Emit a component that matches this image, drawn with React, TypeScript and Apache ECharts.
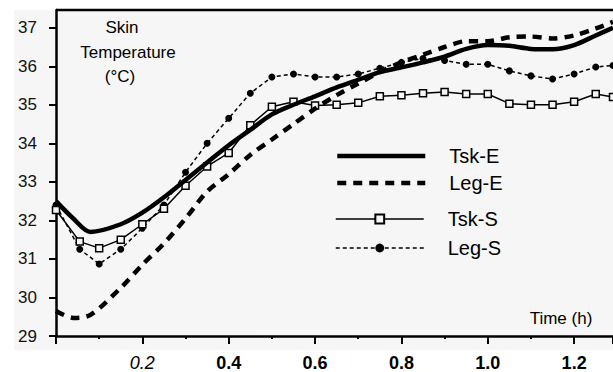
import React, { useEffect, useRef } from "react";
import * as echarts from "echarts";

// Time (h) grids
const timeE = [0, 0.04, 0.08, 0.15, 0.2, 0.25, 0.3, 0.35, 0.4, 0.45, 0.5, 0.55, 0.6, 0.65, 0.7, 0.75, 0.8, 0.85, 0.9, 0.95, 1.0, 1.05, 1.1, 1.15, 1.2, 1.25, 1.29];
const tskE = [32.5, 32.05, 31.7, 31.9, 32.2, 32.6, 33.05, 33.5, 33.95, 34.35, 34.75, 35.0, 35.22, 35.45, 35.65, 35.85, 35.97, 36.1, 36.25, 36.45, 36.55, 36.53, 36.45, 36.44, 36.55, 36.8, 37.0];
const legE = [29.65, 29.47, 29.55, 30.25, 30.85, 31.4, 32.05, 32.75, 33.2, 33.7, 34.1, 34.5, 34.9, 35.25, 35.55, 35.85, 36.1, 36.3, 36.5, 36.65, 36.65, 36.75, 36.77, 36.72, 36.8, 36.98, 37.15];

const timeS = [0, 0.055, 0.1, 0.15, 0.2, 0.25, 0.3, 0.35, 0.4, 0.45, 0.5, 0.55, 0.6, 0.65, 0.7, 0.75, 0.8, 0.85, 0.9, 0.95, 1.0, 1.05, 1.1, 1.15, 1.2, 1.25, 1.29];
const tskS = [32.27, 31.45, 31.28, 31.5, 31.9, 32.3, 32.9, 33.4, 33.75, 34.47, 34.95, 35.08, 34.98, 35.0, 35.05, 35.22, 35.25, 35.3, 35.33, 35.28, 35.28, 35.03, 35.0, 35.0, 35.08, 35.28, 35.2];
const legS = [32.4, 31.25, 30.87, 31.25, 31.8, 32.4, 33.25, 34.0, 34.65, 35.3, 35.72, 35.8, 35.72, 35.72, 35.8, 35.95, 36.1, 36.2, 36.15, 36.05, 36.05, 35.88, 35.75, 35.67, 35.8, 35.98, 36.02];

const seriesNames = ["Tsk-E", "Leg-E", "Tsk-S", "Leg-S"];
const yLabelLines = ["Skin", "Temperature", "(°C)"];
const xName = "Time (h)";

const pair = (t: number[], v: number[]) => t.map((x, i) => [x, v[i]]);

const FONT = "'Liberation Sans', Arial, sans-serif";

export default function App() {
  const ref = useRef<HTMLDivElement>(null);
  useEffect(() => {
    if (!ref.current) return;
    const chart = echarts.init(ref.current, undefined, { renderer: "svg" });
    const legendTops = [146, 173, 209, 238];
    const legendLine: any[] = [
      { color: "#000", width: 4.5, type: "solid" },
      { color: "#000", width: 4.5, type: [9, 7] },
      { color: "#000", width: 1.5, type: "solid" },
      { color: "#000", width: 1.5, type: [4, 3] },
    ];
    const legendItem: any[] = [
      { color: "transparent", borderWidth: 0, opacity: 0 },
      { color: "transparent", borderWidth: 0, opacity: 0 },
      { color: "#f6f6f6", borderColor: "#000", borderWidth: 2 },
      { color: "#000" },
    ];
    const option: any = {
      animation: false,
      backgroundColor: "#ffffff",
      textStyle: { fontFamily: FONT },
      grid: { left: 56, right: 0, top: 10, bottom: 31, containLabel: false },
      xAxis: {
        type: "value",
        min: 0,
        max: 1.29,
        interval: 0.2,
        splitLine: { show: false },
        axisLine: { lineStyle: { color: "#000", width: 2.5 } },
        axisTick: { length: 8, lineStyle: { color: "#000", width: 2 } },
        minorTick: { show: true, splitNumber: 2, length: 3, lineStyle: { color: "#000", width: 2 } },
        axisLabel: {
          margin: 18,
          fontSize: 18,
          fontWeight: "bold",
          color: "#000",
          fontFamily: FONT,
          showMaxLabel: false,
          formatter: (v: number) => {
            if (v === 0) return "";
            if (Math.abs(v * 5 - Math.round(v * 5)) > 1e-6) return "";
            const s = v.toFixed(1);
            return Math.abs(v - 0.2) < 1e-6 ? "{it|" + s + "}" : s;
          },
          rich: { it: { fontStyle: "italic", fontWeight: "normal", fontSize: 18, fontFamily: FONT, color: "#000" } },
        },
      },
      yAxis: {
        type: "value",
        min: 29,
        max: 37.46,
        interval: 1,
        splitLine: { show: false },
        axisLine: { lineStyle: { color: "#000", width: 2.5 } },
        axisTick: { length: 7, lineStyle: { color: "#000", width: 2 } },
        axisLabel: {
          margin: 19,
          fontSize: 17,
          color: "#111",
          fontFamily: FONT,
          showMaxLabel: false,
          formatter: (v: number) => (Math.abs(v - Math.round(v)) > 1e-6 ? "" : String(v)),
        },
      },
      legend: seriesNames.map((n, i) => ({
        data: [n],
        left: 335,
        top: legendTops[i],
        padding: 0,
        itemWidth: 88,
        itemHeight: i < 2 ? 14 : 11,
        lineStyle: legendLine[i],
        itemStyle: legendItem[i],
        textStyle: { fontSize: 20, color: "#000", fontFamily: FONT, padding: [0, 0, 0, 19] },
      })),
      graphic: [
        { type: "rect", z: -10, silent: true, shape: { x: 14, y: 10, width: 600, height: 340 }, style: { fill: "#f6f6f6" } },
        { type: "line", z: 10, shape: { x1: 56, y1: 10, x2: 613, y2: 10 }, style: { stroke: "#000", lineWidth: 2.5 } },
        { type: "text", z: 10, x: 122, y: 27, style: { text: yLabelLines[0], font: "17px " + FONT, fill: "#000", textAlign: "center", textVerticalAlign: "middle" } },
        { type: "text", z: 10, x: 128, y: 52, style: { text: yLabelLines[1], font: "17px " + FONT, fill: "#000", textAlign: "center", textVerticalAlign: "middle" } },
        { type: "text", z: 10, x: 120, y: 76, style: { text: yLabelLines[2], font: "17px " + FONT, fill: "#000", textAlign: "center", textVerticalAlign: "middle" } },
        { type: "text", z: 10, x: 561, y: 318, style: { text: xName, font: "17px " + FONT, fill: "#000", textAlign: "center", textVerticalAlign: "middle" } },
      ],
      series: [
        {
          name: "Leg-S",
          type: "line",
          data: pair(timeS, legS),
          symbol: "circle",
          symbolSize: 7,
          itemStyle: { color: "#000" },
          lineStyle: { color: "#000", width: 1.5, type: [4, 3] },
          z: 2,
        },
        {
          name: "Tsk-S",
          type: "line",
          data: pair(timeS, tskS),
          symbol: "rect",
          symbolSize: 7,
          itemStyle: { color: "#f6f6f6", borderColor: "#000", borderWidth: 1.5 },
          lineStyle: { color: "#000", width: 1.5 },
          z: 3,
        },
        {
          name: "Leg-E",
          type: "line",
          data: pair(timeE, legE),
          symbol: "none",
          smooth: 0.3,
          itemStyle: { color: "#000" },
          lineStyle: { color: "#000", width: 4.5, type: [9, 7] },
          z: 4,
        },
        {
          name: "Tsk-E",
          type: "line",
          data: pair(timeE, tskE),
          symbol: "none",
          smooth: 0.3,
          itemStyle: { color: "#000" },
          lineStyle: { color: "#000", width: 4.5 },
          z: 5,
        },
      ],
    };
    chart.setOption(option);
    return () => chart.dispose();
  }, []);
  return <div ref={ref} style={{ position: "absolute", left: 0, top: 0, width: 613, height: 372 }} />;
}
